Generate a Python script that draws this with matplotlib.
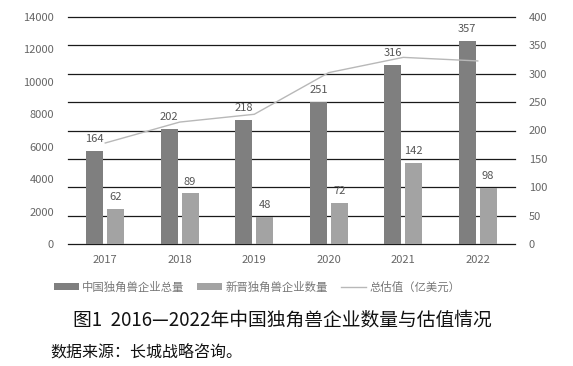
import matplotlib
matplotlib.use("Agg")
import numpy as np
from matplotlib import pyplot as plt

plt.rcParams['font.family'] = ['Noto Sans CJK SC', 'DejaVu Sans']

years = ['2017', '2018', '2019', '2020', '2021', '2022']
total_count = [164, 202, 218, 251, 316, 357]     # 中国独角兽企业总量
new_count = [62, 89, 48, 72, 142, 98]            # 新晋独角兽企业数量
valuation = [6230, 7520, 8000, 10570, 11510, 11290]  # 总估值（亿美元）

dark = '#7f7f7f'
light = '#a3a3a3'
line_c = '#b8b8b8'
tick_c = '#666666'

fig = plt.figure(figsize=(5.73, 3.66), dpi=100)
ax = fig.add_axes([68/573, 1-244/366, (515-68)/573, (244-17)/366])
ax2 = ax.twinx()

x = np.arange(len(years))
w = 0.23
off = 0.14

# bars on the right axis (0-400)
ax2.set_axisbelow(True)
ax2.grid(axis='y', color='#1a1a1a', linewidth=0.9)
b1 = ax2.bar(x - off, total_count, w, color=dark, zorder=2)
b2 = ax2.bar(x + off, new_count, w, color=light, zorder=2)
for xi, v in zip(x - off, total_count):
    ax2.annotate(str(v), (xi, v), xytext=(0, 5), textcoords='offset points',
                 ha='center', va='bottom', fontsize=8, color='#555555')
for xi, v in zip(x + off, new_count):
    ax2.annotate(str(v), (xi, v), xytext=(0, 5), textcoords='offset points',
                 ha='center', va='bottom', fontsize=8, color='#555555')
ax2.set_ylim(0, 400)
ax2.set_yticks(np.arange(0, 401, 50))
for gl in ax2.get_ygridlines():
    gl.set_clip_on(False)

# valuation line on the left axis, drawn above the bars
ax.set_zorder(ax2.get_zorder() + 1)
ax.patch.set_visible(False)
ln, = ax.plot(x, valuation, color=line_c, linewidth=1.0)
ax.set_ylim(0, 14000)
ax.set_yticks(np.arange(0, 14001, 2000))
ax.set_xlim(-0.5, len(years) - 0.5)
ax.set_xticks(x)
ax.set_xticklabels(years)

for a in (ax, ax2):
    for s in a.spines.values():
        s.set_visible(False)
    a.tick_params(length=0, labelsize=8, colors=tick_c)
ax.tick_params(axis='y', pad=10)
ax2.tick_params(axis='y', pad=10)
ax.tick_params(axis='x', pad=8)

fig.legend([b1, b2, ln], ['中国独角兽企业总量', '新晋独角兽企业数量', '总估值（亿美元）'],
           loc='center', bbox_to_anchor=(257/573, 1-287/366), ncol=3, frameon=False,
           fontsize=8.2, labelcolor='#777777', handlelength=2.2, handleheight=0.5,
           columnspacing=1.1, handletextpad=0.3)

fig.text(282/573, 1-320/366, '图1  2016—2022年中国独角兽企业数量与估值情况',
         ha='center', va='center', fontsize=13.5, color='#111111')
fig.text(50/573, 1-352/366, '数据来源：长城战略咨询。',
         ha='left', va='center', fontsize=11.5, color='#111111')

fig.savefig('out.png', dpi=100)
